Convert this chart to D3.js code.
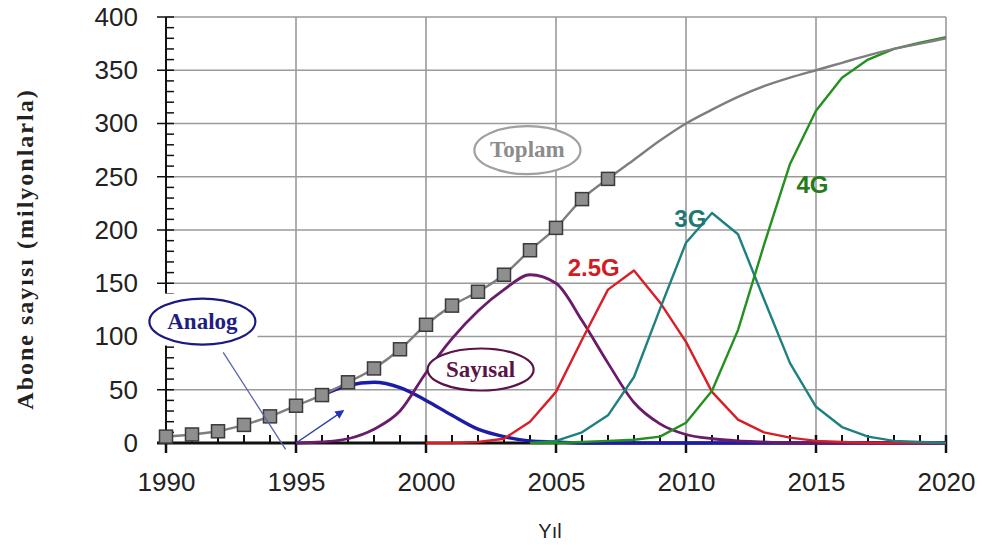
<!DOCTYPE html>
<html>
<head>
<meta charset="utf-8">
<title>Abone sayısı</title>
<style>
  body { margin: 0; background: #fff; }
  svg { display: block; }
  .tick-label text { font-family: "Liberation Sans", Arial, sans-serif; font-size: 26px; fill: #222; }
  .callout { font-family: "Liberation Serif", "Times New Roman", serif; font-weight: bold; font-size: 23px; }
  .gen { font-family: "Liberation Sans", Arial, sans-serif; font-weight: bold; font-size: 24px; }
</style>
<script src="https://cdn.jsdelivr.net/npm/d3@7/dist/d3.min.js"></script>
</head>
<body>
<div id="chart"></div>
<script>
// years 1990..2020
var years = d3.range(1990, 2021);

// values in millions, null = not drawn
var toplam  = [6, 8, 11, 17, 25, 35, 45, 57, 70, 88, 111, 129, 142, 158, 181, 202, 229, 248,
               266, 284, 300, 313, 325, 335, 343, 350, 357, 364, 370, 375, 380];
var analog  = [null, null, null, null, null, null, 45, 54, 57, 52, 40, 26, 13, 6, 2, 1,
               0, 0, 0, 0, 0, 0, 0, 0, 0, 0, 0, 0, 0, 0, 0];
var sayisal = [null, null, null, null, null, 0, 1, 4, 13, 30, 66, 98, 124, 144, 158, 150,
               115, 75, 38, 18, 8, 4, 2, 1, 0, 0, 0, 0, 0, 0, 0];
var g25     = [null, null, null, null, null, null, null, null, null, null, 0, 0, 1, 4, 20, 48,
               97, 144, 162, 132, 95, 48, 22, 10, 5, 2, 1, 0, 0, 0, 0];
var g3      = [null, null, null, null, null, null, null, null, null, null, null, null, null, null, 0, 2,
               10, 26, 62, 126, 188, 216, 196, 135, 75, 34, 15, 6, 2, 1, 0];
var g4      = [null, null, null, null, null, null, null, null, null, null, null, null, null, null, 0, 0,
               1, 2, 3, 6, 19, 49, 106, 186, 262, 312, 343, 360, 370, 376, 381];
var markerYears = d3.range(1990, 2008);

var xTicks = [1990, 1995, 2000, 2005, 2010, 2015, 2020];
var yTicks = [0, 50, 100, 150, 200, 250, 300, 350, 400];

var width = 984, height = 545;
var margin = { top: 17, right: 38, bottom: 102, left: 166 };

var svg = d3.select("#chart").append("svg")
    .attr("width", width)
    .attr("height", height);

var x = d3.scaleLinear().domain([1990, 2020]).range([margin.left, width - margin.right]);
var y = d3.scaleLinear().domain([0, 400]).range([height - margin.bottom, margin.top]);

// grid
svg.append("g").selectAll("line")
    .data(xTicks.slice(1))
    .enter().append("line")
    .attr("x1", d => x(d)).attr("x2", d => x(d))
    .attr("y1", y(0)).attr("y2", y(400))
    .attr("stroke", "#9a9a9a").attr("stroke-width", 1.6);
svg.append("g").selectAll("line")
    .data(yTicks.slice(1))
    .enter().append("line")
    .attr("x1", x(1990)).attr("x2", x(2020))
    .attr("y1", d => y(d)).attr("y2", d => y(d))
    .attr("stroke", "#9a9a9a").attr("stroke-width", 1.6);

// axes
var axisG = svg.append("g").attr("stroke", "#111");
axisG.append("line")
    .attr("x1", x(1990)).attr("x2", x(1990))
    .attr("y1", y(0) + 8).attr("y2", y(400))
    .attr("stroke-width", 2);
axisG.selectAll(".ymin")
    .data(d3.range(0, 401, 10))
    .enter().append("line")
    .attr("x1", d => d % 50 === 0 ? x(1990) - 9 : x(1990))
    .attr("x2", x(1990) + 8)
    .attr("y1", d => y(d)).attr("y2", d => y(d))
    .attr("stroke-width", 1.5);
axisG.append("line")
    .attr("x1", x(1990) - 9).attr("x2", x(2020))
    .attr("y1", y(0)).attr("y2", y(0))
    .attr("stroke-width", 3);
axisG.selectAll(".xmin")
    .data(years)
    .enter().append("line")
    .attr("x1", d => x(d)).attr("x2", d => x(d))
    .attr("y1", y(0) - 8)
    .attr("y2", d => (d % 5 === 0) ? y(0) + 10 : y(0))
    .attr("stroke-width", d => (d % 5 === 0) ? 2.5 : 2);

svg.append("g")
    .attr("class", "tick-label")
    .attr("transform", "translate(0," + y(0) + ")")
    .call(d3.axisBottom(x).tickValues(xTicks).tickFormat(d3.format("d")).tickSize(0).tickPadding(30))
    .call(g => g.select(".domain").remove());
svg.append("g")
    .attr("class", "tick-label")
    .attr("transform", "translate(" + x(1990) + ",0)")
    .call(d3.axisLeft(y).tickValues(yTicks).tickSize(0).tickPadding(28))
    .call(g => g.select(".domain").remove());

// series
function draw(vals, color, w, curve) {
    var line = d3.line()
        .defined(d => d[1] !== null)
        .x(d => x(d[0]))
        .y(d => y(d[1]))
        .curve(curve || d3.curveMonotoneX);
    svg.append("path")
        .datum(years.map((yr, i) => [yr, vals[i]]))
        .attr("fill", "none")
        .attr("stroke", color)
        .attr("stroke-width", w)
        .attr("stroke-linejoin", "round")
        .attr("d", line);
}

draw(analog, "#1c1ca8", 3.4);
draw(sayisal, "#6a1c6a", 2.8);
draw(g25, "#d81e26", 2.4, d3.curveLinear);
draw(g3, "#1f8080", 2.4, d3.curveLinear);
draw(g4, "#24901e", 2.4, d3.curveLinear);
draw(toplam, "#7e7e7e", 2.4);

// markers for total
svg.append("g").selectAll("rect")
    .data(markerYears)
    .enter().append("rect")
    .attr("x", d => x(d) - 6.5)
    .attr("y", d => y(toplam[d - 1990]) - 6.5)
    .attr("width", 13).attr("height", 13)
    .attr("fill", "#8e8e8e")
    .attr("stroke", "#3a3a3a")
    .attr("stroke-width", 1.5);

// generation labels
svg.append("text").attr("class", "gen").attr("fill", "#d01c22")
    .attr("x", x(2005.45)).attr("y", y(157)).text("2.5G");
svg.append("text").attr("class", "gen").attr("fill", "#1f7878")
    .attr("x", x(2009.55)).attr("y", y(203)).text("3G");
svg.append("text").attr("class", "gen").attr("fill", "#257a1c")
    .attr("x", x(2014.25)).attr("y", y(235)).text("4G");

// Analog pointer: line to axis, then arrow up to curve
svg.append("defs").append("marker")
    .attr("id", "arr")
    .attr("viewBox", "0 0 10 10")
    .attr("refX", 8).attr("refY", 5)
    .attr("markerWidth", 6).attr("markerHeight", 6)
    .attr("orient", "auto")
    .append("path").attr("d", "M0,0 L10,5 L0,10 z").attr("fill", "#2233b8");
svg.append("line")
    .attr("x1", x(1992.2)).attr("y1", y(85))
    .attr("x2", x(1994.6)).attr("y2", y(-6))
    .attr("stroke", "#5a64a8").attr("stroke-width", 1.3);
svg.append("line")
    .attr("x1", x(1995)).attr("y1", y(0))
    .attr("x2", x(1996.8)).attr("y2", y(30))
    .attr("stroke", "#3040b0").attr("stroke-width", 1.5)
    .attr("marker-end", "url(#arr)");

// callout ellipses
function callout(cx, cy, rx, ry, label, stroke, fill, back) {
    if (back) {
        svg.append("rect")
            .attr("x", cx - rx - 2).attr("y", cy - ry - 5)
            .attr("width", 2 * rx + 4).attr("height", 2 * ry + 6)
            .attr("fill", "#fff");
    }
    svg.append("ellipse")
        .attr("cx", cx).attr("cy", cy).attr("rx", rx).attr("ry", ry)
        .attr("fill", "#fff").attr("stroke", stroke).attr("stroke-width", 2.2);
    svg.append("text").attr("class", "callout")
        .attr("x", cx).attr("y", cy + 7)
        .attr("text-anchor", "middle")
        .attr("fill", fill)
        .text(label);
}
callout(x(2003.9), y(275), 53, 24, "Toplam", "#a0a0a0", "#8c8c8c");
callout(x(1991.4), y(114), 53, 23, "Analog", "#1a1a80", "#1e1e80", true);
callout(x(2002.1), y(69), 53, 21, "Sayısal", "#5a1448", "#5a1448");

// axis titles
svg.append("text")
    .attr("transform", "translate(33," + 249 + ") rotate(-90)")
    .attr("text-anchor", "middle")
    .style("font-family", "'Liberation Serif', 'Times New Roman', serif")
    .style("font-weight", "bold")
    .style("font-size", "24px")
    .style("letter-spacing", "2px")
    .attr("fill", "#222")
    .text("Abone sayısı (milyonlarla)");
svg.append("text")
    .attr("x", 550).attr("y", 538)
    .attr("text-anchor", "middle")
    .style("font-family", "'Liberation Sans', Arial, sans-serif")
    .style("font-size", "20px")
    .attr("fill", "#222")
    .text("Yıl");
</script>
</body>
</html>
